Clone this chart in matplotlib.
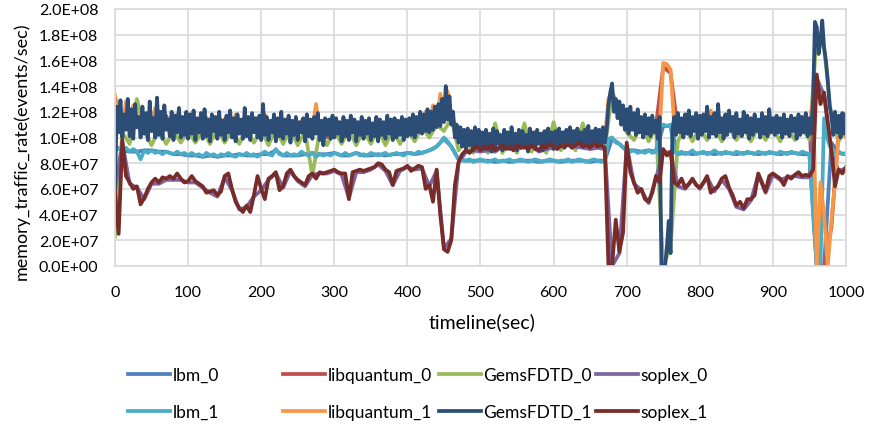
import numpy as np
import matplotlib
matplotlib.use("Agg")
import matplotlib.pyplot as plt
from matplotlib.ticker import FuncFormatter

plt.rcParams['font.family'] = ['Lato', 'DejaVu Sans']

# values in units of 1e7 events/sec
# GemsFDTD_1 every 2.5 s, other _1 series every 5 s, _0 series every 10 s
t25 = np.arange(0, 1000.1, 2.5)
t5 = np.arange(0, 1001, 5)
t10 = np.arange(0, 1001, 10)

gems_1 = [6.0,
    12.4, 10.4, 12.9, 10.0, 11.8, 10.6, 13.0, 10.1, 12.2, 9.9, 12.6, 10.8, 11.6, 10.0, 12.4, 10.3, 11.9, 9.8, 12.8, 10.5,
    11.5, 10.0, 13.1, 10.2, 12.0, 9.9, 12.5, 10.6, 11.4, 10.1, 12.0, 9.8, 11.7, 10.4, 12.3, 10.0, 11.6, 10.2, 12.0, 9.9,
    11.8, 10.3, 12.1, 9.8, 11.5, 10.4, 11.9, 9.9, 12.2, 10.1, 11.4, 9.7, 11.8, 10.5, 11.6, 9.9, 12.0, 10.2, 11.3, 9.8,
    11.7, 10.4, 12.1, 10.0, 11.5, 9.7, 11.8, 10.3, 11.4, 9.9, 12.3, 10.1, 11.6, 9.8, 11.9, 10.4, 11.5, 10.0, 11.7, 9.8,
    12.6, 10.2, 11.6, 9.8, 11.3, 10.4, 11.8, 9.7, 11.5, 10.1, 12.0, 9.9, 11.4, 10.3, 11.7, 9.6, 11.3, 10.2, 11.6, 9.8,
    11.2, 10.4, 11.5, 9.7, 11.8, 10.1, 11.4, 9.9, 11.6, 10.3, 11.9, 9.8, 11.3, 9.4, 11.5, 10.2, 11.4, 9.9, 11.7, 10.0,
    11.5, 10.3, 11.2, 9.7, 11.6, 10.1, 11.3, 9.8, 11.7, 10.4, 11.4, 9.7, 11.2, 10.2, 11.6, 9.9, 11.3, 10.3, 11.5, 9.8,
    11.1, 10.1, 11.6, 9.7, 11.4, 10.2, 11.2, 9.9, 11.7, 10.3, 11.4, 9.8, 11.5, 10.0, 11.3, 10.2, 11.6, 9.8, 11.4, 10.1,
    11.5, 10.2, 11.8, 10.0, 11.6, 10.4, 12.0, 10.3, 11.8, 10.5, 12.2, 10.4, 12.0, 10.6, 12.4, 10.8, 12.6, 10.9, 13.0, 11.2,
    14.0, 11.4, 13.2, 11.0, 12.0, 10.0, 11.0, 9.6, 10.8, 9.3, 10.6, 9.1, 10.7, 9.4, 10.5, 9.0, 10.8, 9.3, 10.6, 9.2,
    10.4, 9.1, 10.6, 9.4, 10.3, 8.9, 10.7, 9.2, 10.5, 9.5, 10.2, 9.0, 10.6, 9.3, 10.4, 9.1, 10.8, 9.4, 10.3, 9.0,
    10.6, 9.2, 10.5, 9.4, 10.2, 8.9, 10.7, 9.3, 10.4, 9.1, 10.6, 9.5, 10.3, 9.0, 10.5, 9.2, 10.7, 9.4, 10.4, 9.1,
    10.5, 9.3, 10.7, 9.5, 10.4, 9.2, 10.6, 9.6, 10.8, 9.3, 10.5, 9.4, 10.7, 9.6, 10.4, 9.3, 10.6, 9.5, 10.9, 9.4,
    10.5, 9.6, 10.7, 9.3, 10.6, 9.5, 10.8, 9.6, 10.5, 12.5, 13.5, 14.2, 12.0, 13.0, 11.5, 12.8, 11.0, 12.5, 10.6, 12.2,
    10.3, 12.4, 10.6, 11.9, 10.2, 12.2, 10.4, 11.6, 10.0, 11.8, 10.3, 11.5, 10.1, 11.7, 10.4, 11.3, 9.9, 11.6, 0.0, 0.0,
    0.0, 1.5, 3.5, 1.0, 10.5, 11.6, 10.2, 11.9, 10.4, 11.5, 10.0, 11.8, 10.3, 12.1, 10.1, 11.6, 10.5, 11.9, 9.9, 11.7,
    10.2, 11.8, 10.5, 12.4, 10.0, 11.6, 10.3, 11.9, 10.1, 12.6, 10.4, 11.5, 9.9, 11.8, 10.2, 12.1, 10.5, 11.6, 10.0, 11.9,
    10.3, 11.4, 10.1, 12.0, 10.4, 11.7, 9.9, 11.5, 10.2, 11.8, 10.5, 11.4, 10.0, 11.9, 10.3, 11.6, 10.1, 12.2, 10.4, 11.5,
    10.2, 11.7, 10.4, 11.5, 10.0, 11.8, 10.3, 11.4, 10.1, 11.7, 10.5, 11.5, 9.9, 11.8, 10.2, 11.6, 10.4, 11.9, 10.1, 11.5,
    10.3, 13.0, 19.0, 18.6, 16.5, 17.5, 19.1, 17.0, 16.0, 14.5, 12.5, 11.8, 10.2, 12.0, 10.4, 11.7, 10.0, 11.9, 10.3, 11.8]

libq_1 = [13.3,
    12.0, 10.5, 12.8, 10.6, 12.5, 10.8, 11.8, 10.5, 11.9, 10.7, 12.3, 10.5, 11.8, 10.8, 11.5, 10.6, 11.8, 10.5, 11.5, 10.6,
    11.3, 10.6, 11.4, 10.5, 11.6, 10.6, 11.3, 10.5, 11.4, 10.7, 11.2, 10.5, 11.8, 10.6, 11.3, 10.5, 11.4, 10.6, 11.2, 10.5,
    11.8, 10.6, 11.2, 10.5, 11.4, 10.6, 11.3, 10.5, 11.2, 10.6, 11.3, 10.5, 11.2, 10.6, 12.6, 10.5, 11.3, 10.4, 11.2, 10.6,
    11.2, 10.5, 11.0, 10.6, 11.3, 10.5, 11.1, 10.6, 11.3, 10.5, 11.2, 10.6, 11.1, 10.5, 11.2, 10.6, 11.0, 10.5, 11.3, 10.6,
    11.3, 10.6, 11.5, 10.7, 12.0, 10.8, 12.5, 11.0, 13.4, 11.5, 13.6, 11.8, 11.0, 10.0, 10.4, 9.8, 10.3, 9.7, 10.4, 9.8,
    10.2, 9.7, 10.1, 9.8, 10.3, 9.6, 10.3, 9.8, 10.1, 9.7, 10.3, 9.8, 10.2, 9.6, 10.4, 9.8, 10.0, 9.7, 10.3, 9.8,
    10.3, 9.8, 10.4, 9.9, 10.5, 9.8, 10.2, 9.9, 10.5, 9.8, 10.4, 9.9, 10.5, 9.8, 13.0, 13.6, 12.2, 12.5, 11.5, 12.0,
    10.8, 11.8, 10.8, 11.4, 10.6, 11.2, 10.6, 11.0, 10.5, 15.8, 15.7, 15.3, 11.0, 10.6, 11.3, 10.7, 11.2, 10.6, 11.4, 10.7,
    11.3, 10.6, 12.1, 10.7, 11.4, 10.6, 11.3, 10.7, 11.6, 10.6, 11.2, 10.7, 11.4, 10.6, 11.1, 10.6, 11.4, 10.7, 11.2, 10.6,
    11.3, 10.7, 11.2, 10.6, 11.3, 10.7, 11.1, 10.6, 11.3, 11.0, 13.0, 0.0, 6.5, 4.0, 0.0, 3.5, 6.5, 10.3, 10.4, 10.0]

lbm_1 = [9.4,
    9.1, 9.0, 9.2, 8.9, 9.1, 8.9, 8.3, 9.0, 8.8, 9.0, 8.8, 8.9, 8.7, 8.9, 8.8, 8.7, 8.9, 8.7, 8.8, 8.6,
    8.8, 8.6, 8.7, 8.5, 8.8, 8.6, 8.7, 8.5, 8.7, 8.6, 8.8, 8.6, 8.5, 8.7, 8.6, 8.8, 8.6, 8.7, 8.5, 8.7,
    8.9, 8.7, 8.6, 9.1, 8.7, 8.6, 8.8, 8.6, 8.7, 8.6, 8.9, 8.7, 8.6, 8.8, 8.5, 8.7, 8.6, 8.7, 8.6, 8.8,
    8.7, 8.6, 8.8, 8.6, 8.7, 8.8, 8.6, 8.7, 8.6, 8.8, 8.7, 8.6, 8.7, 8.8, 8.6, 8.7, 8.8, 8.7, 8.6, 8.8,
    8.8, 8.7, 8.9, 8.8, 8.9, 9.0, 9.1, 9.3, 9.6, 10.0, 9.7, 9.3, 8.8, 8.3, 8.2, 8.2, 8.3, 8.1, 8.2, 8.3,
    8.2, 8.1, 8.2, 8.3, 8.1, 8.2, 8.2, 8.3, 8.1, 8.2, 8.3, 8.2, 8.1, 8.2, 8.3, 8.2, 8.1, 8.2, 8.3, 8.2,
    8.1, 8.2, 8.2, 8.3, 8.1, 8.2, 8.3, 8.2, 8.1, 8.2, 8.3, 8.2, 8.1, 8.2, 9.9, 10.0, 9.6, 9.5, 9.2, 9.0,
    8.9, 9.0, 8.8, 8.9, 8.8, 9.0, 8.8, 8.9, 10.8, 11.0, 10.9, 11.0, 8.9, 8.7, 8.9, 8.7, 8.8, 9.0, 8.7, 8.8,
    8.9, 8.7, 8.8, 9.0, 8.8, 8.7, 8.9, 8.8, 8.7, 8.9, 8.8, 8.7, 8.9, 8.8, 8.7, 8.9, 8.8, 8.7, 8.9, 8.8,
    8.7, 8.9, 8.8, 8.7, 8.9, 8.8, 8.7, 8.9, 8.8, 8.7, 4.0, 0.0, 0.0, 11.5, 9.8, 9.0, 8.8, 8.9, 8.7, 8.8]

soplex_1 = [5.8,
    2.5, 9.8, 7.0, 6.5, 6.0, 6.2, 4.8, 5.3, 6.0, 6.5, 6.8, 6.5, 6.9, 6.8, 7.0, 6.8, 7.2, 6.8, 6.5, 6.6,
    7.0, 6.6, 6.4, 6.2, 5.7, 5.8, 5.9, 5.5, 5.8, 7.0, 7.2, 6.0, 5.0, 4.5, 4.2, 4.7, 4.2, 5.5, 7.0, 6.0,
    5.2, 6.8, 7.0, 7.3, 5.9, 6.2, 7.2, 7.5, 7.0, 6.7, 6.5, 6.3, 7.0, 7.2, 6.8, 7.3, 7.2, 7.3, 7.4, 7.5,
    7.3, 7.2, 7.2, 5.2, 7.3, 7.4, 7.5, 7.4, 7.5, 7.6, 7.7, 8.0, 7.9, 7.5, 7.3, 6.3, 7.4, 7.5, 7.6, 7.8,
    7.4, 7.6, 7.8, 7.7, 6.0, 6.3, 5.0, 7.5, 4.0, 1.3, 1.1, 2.0, 6.3, 8.1, 8.7, 9.0, 8.8, 9.1, 9.3, 9.0,
    9.3, 9.1, 9.4, 9.0, 9.2, 9.4, 9.1, 9.3, 9.0, 9.4, 9.2, 9.3, 9.1, 9.4, 9.2, 9.0, 9.4, 9.2, 9.5, 9.3,
    9.1, 9.4, 9.3, 9.5, 9.2, 9.4, 9.6, 9.3, 9.4, 9.2, 9.5, 9.3, 9.4, 9.2, 0.0, 0.0, 3.6, 1.1, 2.6, 9.6,
    7.3, 6.5, 5.7, 6.0, 5.2, 5.0, 5.7, 7.0, 6.5, 9.1, 8.6, 8.9, 6.5, 6.3, 6.8, 6.1, 6.4, 6.8, 6.3, 6.1,
    6.5, 7.0, 5.7, 6.0, 6.2, 6.8, 7.0, 6.1, 5.5, 4.7, 5.0, 4.5, 5.2, 5.2, 5.5, 7.2, 6.5, 5.8, 7.0, 7.2,
    7.0, 6.8, 6.3, 7.0, 6.8, 7.1, 7.3, 7.0, 7.1, 7.0, 7.5, 14.9, 12.6, 13.5, 11.2, 9.0, 6.2, 7.5, 7.2, 7.7]

gems_0 = [2.3,
    10.4, 9.5, 13.0, 10.5, 9.4, 10.6, 9.5, 10.5, 9.6, 10.5,
    9.6, 10.6, 9.5, 10.8, 9.6, 10.6, 9.5, 10.7, 9.6, 10.6,
    9.4, 10.7, 9.5, 10.6, 9.4, 10.5, 7.0, 10.5, 9.4, 10.6,
    9.5, 10.6, 9.4, 10.6, 9.5, 10.7, 9.4, 10.6, 9.5, 10.6,
    9.7, 10.8, 10.0, 11.0, 10.5, 11.5, 9.0, 9.8, 8.8, 9.8,
    8.8, 11.1, 8.8, 9.9, 8.8, 11.1, 8.9, 9.9, 8.8, 11.2,
    9.0, 9.9, 9.0, 11.1, 9.1, 9.9, 9.1, 13.5, 12.0, 10.4,
    9.8, 11.0, 9.7, 10.8, 0.0, 1.5, 9.7, 10.8, 9.7, 10.8,
    9.8, 10.9, 9.7, 10.8, 9.8, 10.8, 9.7, 10.8, 9.8, 10.8,
    9.7, 10.8, 9.8, 10.8, 9.8, 18.0, 17.0, 11.5, 9.7, 10.8]

lbm_0 = [9.3,
    9.0, 8.9, 8.9, 9.0, 9.0, 8.9, 8.9, 8.7, 8.7, 8.6,
    8.6, 8.5, 8.6, 8.5, 8.6, 8.6, 8.7, 8.6, 8.6, 8.7,
    8.7, 9.0, 8.6, 8.6, 8.6, 8.7, 8.8, 8.7, 8.7, 8.8,
    8.6, 8.6, 8.8, 8.6, 8.6, 8.7, 8.6, 8.7, 8.7, 8.8,
    8.7, 8.8, 9.0, 9.3, 9.9, 9.3, 8.3, 8.2, 8.2, 8.2,
    8.2, 8.1, 8.2, 8.1, 8.2, 8.2, 8.2, 8.1, 8.2, 8.2,
    8.1, 8.2, 8.2, 8.2, 8.1, 8.2, 8.2, 9.9, 9.5, 9.0,
    9.0, 8.9, 9.0, 8.9, 10.9, 10.9, 8.7, 8.8, 8.7, 8.8,
    8.8, 8.7, 8.8, 8.8, 8.7, 8.8, 8.8, 8.7, 8.8, 8.8,
    8.7, 8.8, 8.8, 8.7, 8.7, 0.0, 0.0, 9.6, 8.8, 8.7]

libq_0 = [13.0,
    10.8, 10.6, 11.5, 10.4, 11.2, 10.3, 11.7, 10.4, 11.0, 10.5,
    11.3, 10.3, 10.8, 10.4, 11.4, 10.2, 10.7, 10.4, 11.0, 10.3,
    10.6, 11.1, 10.2, 11.3, 10.3, 10.9, 10.2, 11.1, 10.0, 10.7,
    10.3, 11.0, 10.3, 10.8, 10.4, 10.9, 10.3, 10.7, 10.4, 10.9,
    10.5, 10.9, 10.9, 11.4, 11.8, 11.5, 10.1, 9.9, 9.6, 10.1,
    9.6, 10.0, 9.5, 10.1, 9.7, 9.9, 9.6, 10.0, 9.7, 9.9,
    9.8, 10.1, 9.8, 10.0, 9.8, 10.1, 9.9, 13.5, 12.2, 11.8,
    11.8, 11.2, 11.0, 10.9, 15.5, 15.0, 10.6, 11.1, 10.5, 10.9,
    10.6, 11.1, 10.5, 10.9, 10.5, 11.0, 10.6, 10.5, 11.0, 10.6,
    10.9, 10.6, 11.0, 10.6, 10.9, 0.0, 0.0, 3.0, 10.6, 10.4]

soplex_0 = [5.9,
    9.6, 6.4, 6.1, 5.2, 6.4, 6.4, 6.7, 6.7, 6.7, 6.5,
    6.5, 6.1, 5.7, 5.4, 6.9, 5.9, 4.4, 4.6, 5.4, 5.9,
    6.7, 7.2, 6.1, 7.4, 6.6, 6.2, 7.1, 7.2, 7.2, 7.4,
    7.1, 5.3, 7.3, 7.3, 7.5, 7.9, 7.4, 6.3, 7.4, 7.7,
    7.5, 7.6, 6.2, 7.4, 1.4, 2.1, 8.0, 8.9, 9.0, 8.9,
    9.0, 8.9, 9.3, 9.2, 9.3, 9.2, 9.3, 8.9, 9.1, 9.2,
    9.3, 9.4, 9.3, 9.2, 9.1, 9.2, 9.1, 0.0, 1.0, 9.4,
    6.4, 5.9, 4.9, 6.8, 8.9, 8.8, 6.2, 6.0, 6.7, 6.0,
    6.9, 5.8, 6.7, 6.0, 4.6, 4.4, 5.1, 7.1, 5.7, 7.1,
    6.7, 6.9, 7.0, 6.9, 6.9, 14.6, 13.3, 8.8, 7.4, 7.6]

series = [
    ('lbm_0', t10, lbm_0, '#4F81BD'),
    ('libquantum_0', t10, libq_0, '#C0504D'),
    ('GemsFDTD_0', t10, gems_0, '#9BBB59'),
    ('soplex_0', t10, soplex_0, '#8064A2'),
    ('lbm_1', t5, lbm_1, '#4BACC6'),
    ('libquantum_1', t5, libq_1, '#F79646'),
    ('GemsFDTD_1', t25, gems_1, '#2C4D75'),
    ('soplex_1', t5, soplex_1, '#772C2A'),
]

fig = plt.figure(figsize=(8.69, 4.27), dpi=100)
ax = fig.add_axes([115 / 869, 1 - 267 / 427, 731 / 869, 257 / 427])

handles = {}
for name, t, vals, col in series:
    line, = ax.plot(t, np.array(vals) * 1e7, color=col, lw=2.7, label=name,
                    solid_joinstyle='round')
    handles[name] = line

ax.set_xlim(0, 1000)
ax.set_ylim(0, 2e8)
ax.set_xticks(np.arange(0, 1001, 100))
ax.set_yticks(np.arange(0, 2.01e8, 2e7))
ax.yaxis.set_major_formatter(FuncFormatter(lambda v, _: f'{v:.1E}'))
ax.grid(True, color='#D9D9D9', lw=1.2)
ax.set_axisbelow(True)
for sp in ax.spines.values():
    sp.set_color('#D9D9D9')
    sp.set_linewidth(1.2)
ax.tick_params(length=0, labelsize=11.5, colors='black')
ax.tick_params(axis='y', pad=12)
ax.tick_params(axis='x', pad=14)

fig.text(21 / 869, 1 - 151 / 427, 'memory_traffic_rate(events/sec)', rotation=90,
         ha='center', va='center', fontsize=13)
fig.text(482 / 869, 1 - 322 / 427, 'timeline(sec)', ha='center', va='center', fontsize=14)

# Excel-style legend: four equal-width columns, two rows
cols = [('lbm_0', 'lbm_1'), ('libquantum_0', 'libquantum_1'),
        ('GemsFDTD_0', 'GemsFDTD_1'), ('soplex_0', 'soplex_1')]
col_x = [128, 283, 439, 596]
for x, names in zip(col_x, cols):
    fig.legend(handles=[handles[n] for n in names], labels=list(names),
               loc='center left', bbox_to_anchor=(x / 869, 1 - 394.5 / 427),
               frameon=False, fontsize=12.5, handlelength=2.4, handletextpad=0.17,
               borderpad=0, borderaxespad=0, labelspacing=1.2)

fig.savefig('out.png', dpi=100)
